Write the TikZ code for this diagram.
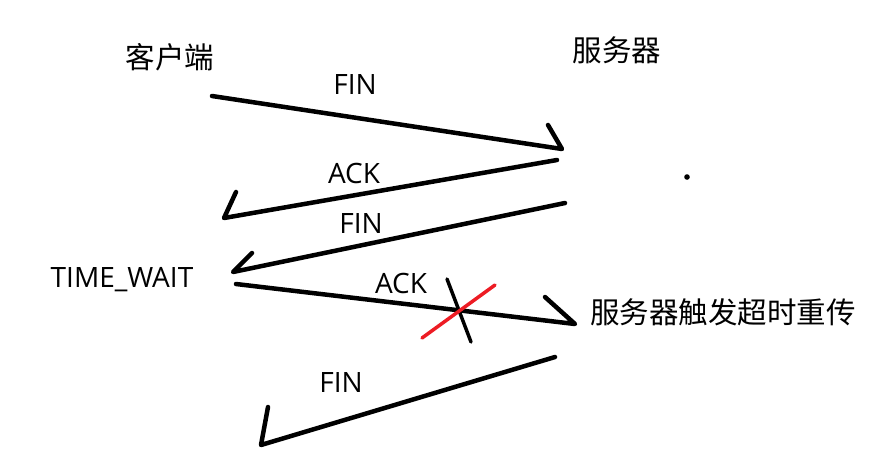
\documentclass[tikz,border=0pt]{standalone}
\usepackage{fontspec}
\setmainfont{Open Sans}
\newfontfamily\cjk{Noto Sans CJK SC}
\usetikzlibrary{positioning}

\definecolor{paintred}{RGB}{237,28,36}

\tikzset{
	stroke/.style={line width=4.5pt, line cap=round, line join=round},
	cross/.style={line width=3.5pt, line cap=round},
	lbl/.style={inner sep=0pt, anchor=base, font=\fontsize{28}{32}\selectfont},
	zh/.style={inner sep=0pt, anchor=base, font=\cjk\fontsize{29.5}{33}\selectfont}
}

\begin{document}
\begin{tikzpicture}[x=1pt, y=-1pt]
	\useasboundingbox (0,0) rectangle (890,472);

	\node[zh] (client) at (170,68) {客户端};
	\node[zh] (server) at (617,61) {服务器};
	\node[lbl] (fin1) at (355,94) {FIN};
	\node[lbl] (ack1) at (354,183) {ACK};
	\node[lbl] (fin2) at (361,233) {FIN};
	\node[lbl] (timewait) at (122,287) {TIME\_WAIT};
	\node[lbl] (ack2) at (401,293) {ACK};
	\node[zh] (retrans) at (723,323) {服务器触发超时重传};
	\node[lbl] (fin3) at (341,392) {FIN};

	\coordinate (c1) at (212,96);
	\coordinate (s1) at (562,149);
	\coordinate (s1b) at (548,125);
	\coordinate (s2) at (557,160);
	\coordinate (c2) at (224,218);
	\coordinate (c2b) at (236,192);
	\coordinate (s3) at (565,203);
	\coordinate (c3) at (233,272);
	\coordinate (c3b) at (252,253);
	\coordinate (c4) at (236,284);
	\coordinate (s4) at (575,324);
	\coordinate (s4b) at (545,297);
	\coordinate (s5) at (555,357);
	\coordinate (c5) at (261,445);
	\coordinate (c5b) at (268,407);

	\draw[stroke] (c1) -- (s1) -- (s1b);
	\draw[stroke] (s2) -- (c2) -- (c2b);
	\draw[stroke] (s3) -- (c3) -- (c3b);
	\draw[stroke] (c4) -- (s4) -- (s4b);
	\draw[stroke] (s5) -- (c5) -- (c5b);

	\coordinate (x1) at (447,279);
	\coordinate (x2) at (471,342);
	\coordinate (x3) at (495,285);
	\coordinate (x4) at (422,338);
	\draw[cross] (x1) -- (x2);
	\draw[cross, paintred] (x3) -- (x4);

	\fill (687,177) circle (2.8pt);
\end{tikzpicture}
\end{document}
